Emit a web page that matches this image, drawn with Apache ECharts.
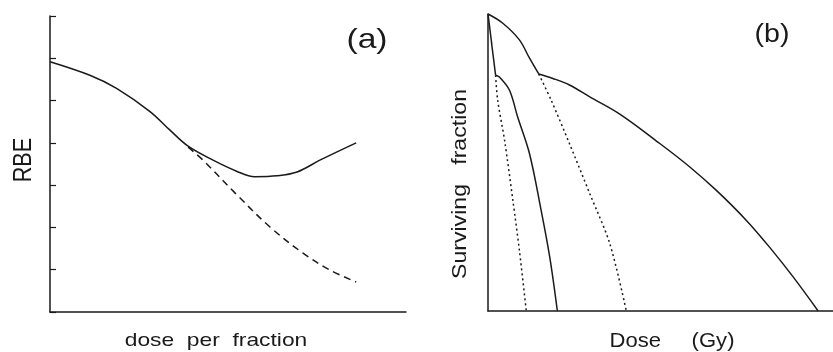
<!DOCTYPE html>
<html><head><meta charset="utf-8">
<script src="https://cdn.jsdelivr.net/npm/echarts@6/dist/echarts.min.js"></script>
<style>html,body{margin:0;padding:0;background:#fff}#c{width:833px;height:352px}</style>
</head><body><div id="c"></div>
<script>
// Panel (a): RBE vs dose per fraction (arbitrary units)
const rbeSolid = [[0,5.92],[1.12,5.60],[1.87,5.29],[2.81,4.74],[3.37,4.30],[3.88,3.92],[4.58,3.59],[5.24,3.33],[5.75,3.20],[6.38,3.22],[6.94,3.31],[7.58,3.59],[8.60,4.00]];
const rbeDashed = [[3.88,3.90],[4.30,3.59],[5.25,2.77],[6.18,2.01],[7.11,1.39],[7.87,0.99],[8.60,0.71]];
// Panel (b): surviving fraction vs dose (arbitrary units)
const sfUpperA = [[0,10],[0.43,9.69],[0.91,9.13],[1.20,8.52],[1.47,7.98]];
const sfUpperB = [[1.47,7.98],[1.88,7.83],[2.36,7.61],[2.95,7.21],[3.82,6.63],[4.98,5.64],[5.85,4.85],[6.62,4.06],[7.49,3.05],[8.16,2.15],[8.85,1.14],[9.57,0]];
const sfSteep = [[0,10],[0.22,7.94]];
const sfLow = [[0.22,7.94],[0.33,7.88],[0.62,7.44],[0.86,6.53],[1.20,5.31],[1.54,3.39],[1.79,1.81],[2.01,0]];
const sfDot1 = [[0.22,7.94],[0.28,7.10],[0.48,5.75],[0.72,3.73],[0.91,2.04],[1.11,0]];
const sfDot2 = [[1.47,7.98],[1.83,7.10],[2.36,5.64],[2.95,3.95],[3.53,2.27],[4.01,0]];
// Texts
const labelA = '(a)', labelB = '(b)';
const xNameA = 'dose  per  fraction', yNameA = 'RBE';
const xNameB = 'Dose     (Gy)', yNameB = 'Surviving   fraction';

const ink = '#1a1a1a';
const font = '"Liberation Sans", Arial, sans-serif';
const axisLine = {show:true, lineStyle:{color:ink, width:1.5}};
function line(xi, data, type, smooth){
  return {type:'line', xAxisIndex:xi, yAxisIndex:xi, data:data, symbol:'none', smooth:smooth,
    lineStyle:{color:ink, width:1.5, type:type}, silent:true};
}
function txt(text, x, y, size, sx, rot){
  return {type:'text', x:x, y:y, rotation:rot||0, scaleX:sx, scaleY:1, silent:true,
    style:{text:text, font:size+'px '+font, fill:ink, align:'center', verticalAlign:'middle'}};
}
const chart = echarts.init(document.getElementById('c'));
chart.setOption({
  animation:false,
  grid:[
    {left:50, top:16, width:356, height:296, outerBoundsMode:'none'},
    {left:488, top:14, right:0, height:297, outerBoundsMode:'none'}
  ],
  xAxis:[
    {gridIndex:0, type:'value', min:0, max:10, axisLine:axisLine, axisTick:{show:false}, axisLabel:{show:false}, splitLine:{show:false}},
    {gridIndex:1, type:'value', min:0, max:10, axisLine:axisLine, axisTick:{show:false}, axisLabel:{show:false}, splitLine:{show:false}}
  ],
  yAxis:[
    {gridIndex:0, type:'value', min:0, max:7, interval:1, axisLine:axisLine, axisTick:{show:true, inside:true, length:6, lineStyle:{color:ink, width:1.2}}, axisLabel:{show:false}, splitLine:{show:false}},
    {gridIndex:1, type:'value', min:0, max:10, axisLine:axisLine, axisTick:{show:false}, axisLabel:{show:false}, splitLine:{show:false}}
  ],
  graphic:[
    txt(labelA, 367, 40, 28, 1.2),
    txt(labelB, 772, 35, 26, 1.1),
    txt(xNameA, 216, 341, 19, 1.2),
    txt(yNameA, 24, 160, 25, 0.87, Math.PI/2),
    txt(xNameB, 672, 341, 21, 1.05),
    txt(yNameB, 460, 184, 21, 1.1, Math.PI/2)
  ],
  series:[
    line(0, rbeSolid, 'solid', 0.35),
    line(0, rbeDashed, [7,5], 0.35),
    line(1, sfUpperA, 'solid', 0.35),
    line(1, sfUpperB, 'solid', 0.35),
    line(1, sfSteep, 'solid', false),
    line(1, sfLow, 'solid', 0.35),
    line(1, sfDot1, [2,3], 0.3),
    line(1, sfDot2, [2,3], 0.3)
  ]
});
</script></body></html>
